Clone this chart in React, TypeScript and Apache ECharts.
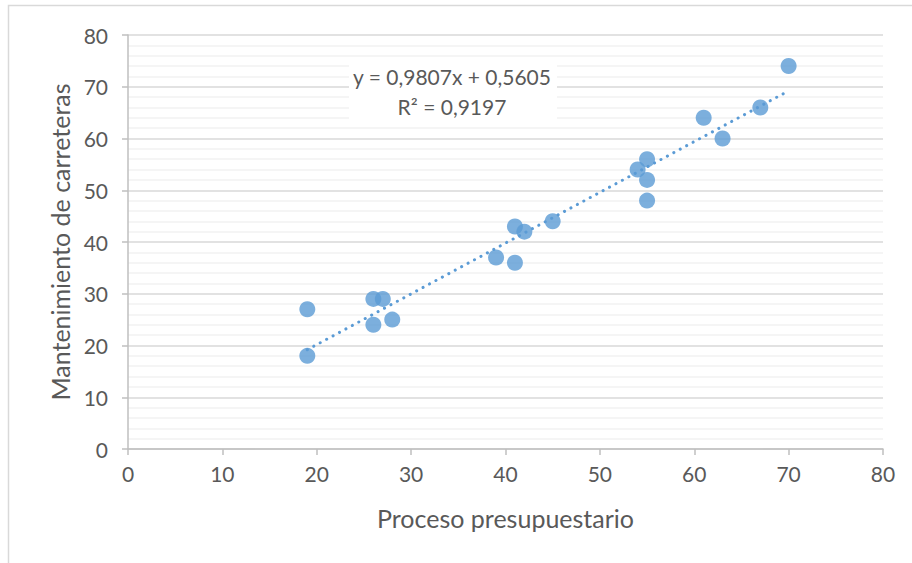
import React, { useEffect, useRef } from "react";
import * as echarts from "echarts";

const procesoPresupuestario = [19, 19, 26, 27, 26, 28, 39, 41, 41, 42, 45, 54, 55, 55, 55, 61, 63, 67, 70];
const mantenimientoCarreteras = [18, 27, 29, 29, 24, 25, 37, 43, 36, 42, 44, 54, 56, 52, 48, 64, 60, 66, 74];
const slope = 0.9807;
const intercept = 0.5605;
const rSquared = 0.9197;
const trendRange = [19, 70];
const xTitle = "Proceso presupuestario";
const yTitle = "Mantenimiento de carreteras";

const fmt = (v: number) => v.toFixed(4).replace(".", ",");

export default function App() {
  const ref = useRef<HTMLDivElement>(null);
  useEffect(() => {
    if (!ref.current) return;
    const chart = echarts.init(ref.current, undefined, { renderer: "svg" });
    const points = procesoPresupuestario.map((x, i) => [x, mantenimientoCarreteras[i]]);
    const trend = trendRange.map((x) => [x, slope * x + intercept]);
    const font = "Lato";
    chart.setOption({
      animation: false,
      backgroundColor: "#ffffff",
      grid: { left: 128, right: 29, top: 35, bottom: 114 },
      xAxis: {
        type: "value",
        min: 0,
        max: 80,
        interval: 10,
        name: xTitle,
        nameLocation: "middle",
        nameGap: 56,
        nameTextStyle: { fontFamily: font, fontSize: 25, color: "#595959" },
        axisLine: { show: true, lineStyle: { color: "#bfbfbf", width: 1.5 } },
        axisTick: { show: true, length: 6, lineStyle: { color: "#bfbfbf", width: 1.5 } },
        axisLabel: { margin: 14, fontFamily: font, fontSize: 21, color: "#595959" },
        splitLine: { show: false },
      },
      yAxis: {
        type: "value",
        min: 0,
        max: 80,
        interval: 10,
        name: yTitle,
        nameLocation: "middle",
        nameGap: 54,
        nameTextStyle: { fontFamily: font, fontSize: 25, color: "#595959" },
        axisLine: { show: true, lineStyle: { color: "#bfbfbf", width: 1.5 } },
        axisTick: { show: true, length: 6, lineStyle: { color: "#bfbfbf", width: 1.5 } },
        axisLabel: { margin: 20, fontFamily: font, fontSize: 21, color: "#595959" },
        splitLine: { show: true, lineStyle: { color: "#d9d9d9", width: 1.5 } },
        minorTick: { show: false, splitNumber: 5 },
        minorSplitLine: { show: true, lineStyle: { color: "#f2f2f2", width: 1.5 } },
      },
      graphic: [
        {
          type: "rect",
          shape: { x: 8.5, y: 5.5, width: 1000, height: 1000 },
          style: { fill: "none", stroke: "#d9d9d9", lineWidth: 1.5 },
          silent: true,
          z: 100,
        },
        {
          type: "rect",
          shape: { x: 349, y: 62, width: 208, height: 58 },
          style: { fill: "#ffffff" },
          silent: true,
          z: 100,
        },
        {
          type: "text",
          x: 452,
          y: 76,
          z: 101,
          style: {
            text: `y = ${fmt(slope)}x + ${fmt(intercept)}`,
            fontFamily: font,
            fontSize: 21,
            fill: "#595959",
            align: "center",
            verticalAlign: "middle",
          },
        },
        {
          type: "text",
          x: 452,
          y: 106,
          z: 101,
          style: {
            text: `R² = ${fmt(rSquared)}`,
            fontFamily: font,
            fontSize: 21,
            fill: "#595959",
            align: "center",
            verticalAlign: "middle",
          },
        },
      ],
      series: [
        {
          type: "line",
          data: trend,
          showSymbol: false,
          symbol: "none",
          lineStyle: { color: "#5b9bd5", width: 3, type: [0.1, 7.2], cap: "round" },
          z: 3,
        },
        {
          type: "scatter",
          data: points,
          symbol: "circle",
          symbolSize: 16,
          itemStyle: { color: "#5b9bd5" },
          z: 2,
        },
      ],
    });
    return () => chart.dispose();
  }, []);
  return (
    <div
      ref={ref}
      style={{ position: "fixed", left: 0, top: 0, width: 912, height: 563 }}
    />
  );
}
